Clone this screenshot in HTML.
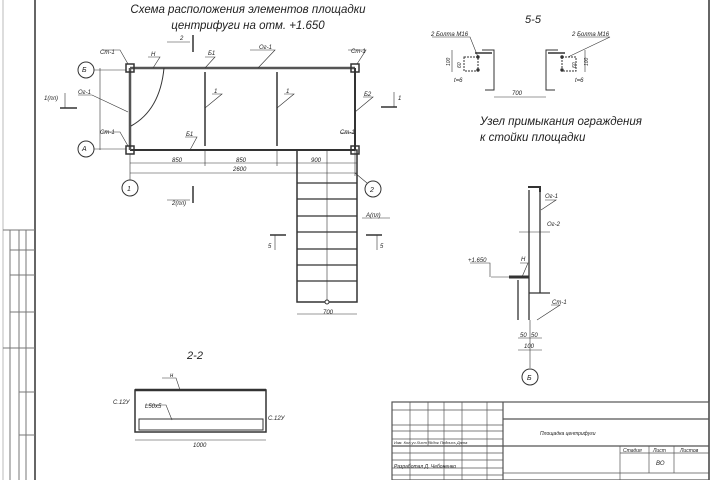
<!DOCTYPE html>
<html><head><meta charset="utf-8"><style>
html,body{margin:0;padding:0;background:#fff;}
svg{display:block;}
text{font-family:"Liberation Sans",sans-serif;font-style:italic;fill:#222;}
</style></head><body>
<svg width="720" height="480" viewBox="0 0 720 480" xmlns="http://www.w3.org/2000/svg">
<g stroke="#333" fill="none" stroke-width="1">
<line x1="35" y1="0" x2="35" y2="480" stroke-width="1.5"/>
<line x1="709" y1="0" x2="709" y2="480" stroke-width="1.5"/>
<line x1="3" y1="0" x2="3" y2="480" stroke="#bbb"/>
<g stroke="#777">
<line x1="10" y1="230" x2="10" y2="480"/>
<line x1="19" y1="230" x2="19" y2="480"/>
<line x1="26" y1="230" x2="26" y2="480"/>
<line x1="3" y1="230" x2="35" y2="230"/>
<line x1="10" y1="250" x2="35" y2="250"/>
<line x1="10" y1="275" x2="35" y2="275"/>
<line x1="10" y1="312" x2="35" y2="312"/>
<line x1="3" y1="348" x2="35" y2="348"/>
<line x1="19" y1="392" x2="35" y2="392"/>
<line x1="19" y1="435" x2="35" y2="435"/>
</g>
<line x1="130" y1="68" x2="355" y2="68" stroke-width="2.5" stroke="#555"/>
<line x1="130" y1="150" x2="355" y2="150" stroke-width="2"/>
<line x1="130" y1="68" x2="130" y2="150" stroke-width="2.5" stroke="#555"/>
<line x1="355" y1="68" x2="355" y2="150" stroke-width="2"/>
<line x1="205" y1="72" x2="205" y2="146" stroke-width="1.5"/>
<line x1="277" y1="72" x2="277" y2="146" stroke-width="1.5"/>
<path d="M164 68 Q160 110 131 126"/>
<rect x="126" y="64" width="8" height="8" stroke-width="1.5"/>
<rect x="351" y="64" width="8" height="8" stroke-width="1.5"/>
<rect x="126" y="146" width="8" height="8" stroke-width="1.5"/>
<rect x="351" y="146" width="8" height="8" stroke-width="1.5"/>
<circle cx="86" cy="70" r="8"/><line x1="94" y1="70" x2="126" y2="70" stroke-width="0.6"/>
<circle cx="86" cy="149" r="8"/><line x1="94" y1="149" x2="126" y2="149" stroke-width="0.6"/>
<line x1="100" y1="68" x2="100" y2="150" stroke-width="0.6"/>
<circle cx="130" cy="188" r="8"/><line x1="130" y1="154" x2="130" y2="180" stroke-width="0.6"/>
<circle cx="373" cy="189" r="8"/><line x1="355" y1="173" x2="367" y2="183" stroke-width="0.6"/>
<g stroke-width="0.6">
<line x1="130" y1="163" x2="357" y2="163"/>
<line x1="130" y1="173" x2="357" y2="173"/>
<line x1="205" y1="150" x2="205" y2="166"/>
<line x1="277" y1="150" x2="277" y2="166"/>
<line x1="355" y1="150" x2="355" y2="176"/>
</g>
<line x1="167" y1="42" x2="190" y2="42" stroke-width="0.6"/><line x1="193" y1="35" x2="193" y2="52" stroke-width="1.5"/>
<line x1="167" y1="200" x2="190" y2="200" stroke-width="0.6"/><line x1="193" y1="186" x2="193" y2="203" stroke-width="1.5"/>
<line x1="381" y1="107" x2="397" y2="107" stroke-width="1.5"/><line x1="394" y1="92" x2="394" y2="107" stroke-width="0.6"/>
<line x1="60" y1="108" x2="77" y2="108" stroke-width="1.5"/><line x1="65" y1="93" x2="65" y2="108" stroke-width="0.6"/>
<line x1="270" y1="235" x2="286" y2="235" stroke-width="1.5"/><line x1="275" y1="235" x2="275" y2="250" stroke-width="0.6"/>
<line x1="366" y1="235" x2="382" y2="235" stroke-width="1.5"/><line x1="377" y1="235" x2="377" y2="250" stroke-width="0.6"/>
<g stroke-width="0.6">
<path d="M102 50 L120 50 L128 64"/><path d="M348 50 L366 50 L357 64"/>
<path d="M102 132 L120 132 L128 146"/><path d="M340 133 L355 133 L355 146"/>
<path d="M148 57 L160 57 L153 68"/><path d="M205 57 L215 57 L205 68"/>
<path d="M250 50 L275 50 L258 68"/>
<path d="M78 95 L92 95 L128 112"/>
<path d="M185 137 L197 137 L190 150"/>
<path d="M212 94 L222 94 L205 108"/><path d="M284 94 L294 94 L277 108"/>
<path d="M363 97 L373 97 L355 112"/>
<path d="M362 218 L390 218"/>
</g>
<rect x="297" y="150" width="60" height="152" stroke-width="1.5"/>
<g stroke-width="1.3">
<line x1="297" y1="183" x2="357" y2="183"/><line x1="297" y1="199" x2="357" y2="199"/>
<line x1="297" y1="216" x2="357" y2="216"/><line x1="297" y1="232" x2="357" y2="232"/>
<line x1="297" y1="249" x2="357" y2="249"/><line x1="297" y1="265" x2="357" y2="265"/>
<line x1="297" y1="281" x2="357" y2="281"/>
</g>
<line x1="327" y1="150" x2="327" y2="300" stroke-width="0.6"/>
<circle cx="327" cy="302" r="2" fill="#fff"/>
<line x1="297" y1="314" x2="357" y2="314" stroke-width="0.6"/>
<!-- 5-5 -->
<g stroke-width="1">
<path d="M482 50 L494 50 L494 90 L485 90"/><line x1="475" y1="53" x2="492" y2="53" stroke-width="1.5"/>
<rect x="464" y="57" width="14" height="14" stroke-dasharray="2,1"/>
<path d="M558 50 L546 50 L546 90 L555 90"/><line x1="548" y1="53" x2="565" y2="53" stroke-width="1.5"/>
<rect x="562" y="57" width="14" height="14" stroke-dasharray="2,1"/>
<circle cx="478" cy="57" r="1.2" fill="#333"/><circle cx="478" cy="70" r="1.2" fill="#333"/>
<circle cx="562" cy="57" r="1.2" fill="#333"/><circle cx="562" cy="70" r="1.2" fill="#333"/>
<line x1="494" y1="97" x2="546" y2="97" stroke-width="0.6"/>
<path d="M432 37 L470 37 L478 57" stroke-width="0.6"/><path d="M578 37 L610 37 L568 57" stroke-width="0.6"/>
<path d="M452 50 L452 72 M585 50 L585 72" stroke-width="0.6"/>
</g>
<g>
<path d="M528 187 L540 187 L540 192" stroke-width="2"/>
<line x1="529" y1="190" x2="529" y2="320" stroke-width="1.3"/>
<line x1="540" y1="190" x2="540" y2="293" stroke-width="1.3"/>
<line x1="519" y1="232" x2="550" y2="232" stroke-width="0.6"/>
<line x1="491" y1="277" x2="529" y2="277" stroke-width="0.6"/>
<line x1="509" y1="277" x2="529" y2="277" stroke-width="3"/>
<line x1="518" y1="280" x2="518" y2="320" stroke-width="1.3"/>
<line x1="529" y1="293" x2="550" y2="293" stroke-width="1.3"/>
<path d="M470 263 L490 263 L490 277" stroke-width="0.6"/>
<path d="M520 263 L528 263 L522 277" stroke-width="0.6"/>
<path d="M545 200 L556 200 L541 210" stroke-width="0.6"/>
<path d="M551 305 L560 305 L537 320" stroke-width="0.6"/>
<line x1="518" y1="338" x2="542" y2="338" stroke-width="0.6"/>
<line x1="518" y1="350" x2="542" y2="350" stroke-width="0.6"/>
<line x1="530" y1="320" x2="530" y2="368" stroke-width="0.6"/>
<circle cx="530" cy="377" r="8"/>
</g>
<rect x="135" y="390" width="131" height="42" stroke-width="1.5"/>
<line x1="135" y1="390" x2="266" y2="390" stroke-width="2.5"/>
<rect x="139" y="419" width="124" height="11"/>
<path d="M162 378 L176 378 L180 390" stroke-width="0.6"/>
<path d="M145 405 L166 405 L172 420" stroke-width="0.6"/>
<line x1="135" y1="440" x2="266" y2="440" stroke-width="0.6"/>
<g stroke-width="0.7" stroke="#555">
<rect x="392" y="402" width="317" height="78" stroke-width="1.2"/>
<line x1="503" y1="419" x2="709" y2="419" stroke-width="1.2"/>
<line x1="392" y1="446" x2="709" y2="446" stroke-width="1.2"/>
<line x1="392" y1="410" x2="503" y2="410"/><line x1="392" y1="425" x2="503" y2="425"/>
<line x1="392" y1="431" x2="503" y2="431"/><line x1="392" y1="439" x2="503" y2="439"/>
<line x1="392" y1="453" x2="503" y2="453"/><line x1="392" y1="460" x2="503" y2="460"/>
<line x1="392" y1="468" x2="503" y2="468"/><line x1="392" y1="475" x2="503" y2="475"/>
<line x1="620" y1="453" x2="709" y2="453"/><line x1="503" y1="473" x2="709" y2="473"/>
<line x1="410" y1="402" x2="410" y2="480"/><line x1="428" y1="402" x2="428" y2="446"/>
<line x1="444" y1="402" x2="444" y2="480"/><line x1="462" y1="402" x2="462" y2="480"/>
<line x1="487" y1="402" x2="487" y2="480"/><line x1="503" y1="402" x2="503" y2="480" stroke-width="1.2"/>
<line x1="620" y1="446" x2="620" y2="480"/><line x1="649" y1="446" x2="649" y2="473"/><line x1="674" y1="446" x2="674" y2="473"/>
</g>
</g>
<text x="248" y="13" font-size="11.5" text-anchor="middle">Схема расположения элементов площадки</text>
<text x="248" y="29" font-size="11.5" text-anchor="middle">центрифуги на отм. +1.650</text>
<text x="533" y="23" font-size="11" text-anchor="middle">5-5</text>
<text x="480" y="125" font-size="11.5">Узел примыкания ограждения</text>
<text x="480" y="141" font-size="11.5">к стойки площадки</text>
<text x="195" y="359" font-size="11" text-anchor="middle">2-2</text>
<g font-size="6">
<text x="100" y="54">Ст-1</text><text x="351" y="53">Ст-1</text>
<text x="100" y="134">Ст-1</text><text x="340" y="134">Ст-1</text>
<text x="151" y="56">Н</text><text x="208" y="55">Б1</text><text x="259" y="49">Ог-1</text>
<text x="78" y="94">Ог-1</text><text x="186" y="136">Б1</text>
<text x="214" y="93">1</text><text x="286" y="93">1</text><text x="364" y="96">Б2</text>
<text x="172" y="162">850</text><text x="236" y="162">850</text><text x="311" y="162">900</text>
<text x="233" y="171">2600</text><text x="323" y="314">700</text>
<text x="44" y="100">1(пл)</text><text x="398" y="100">1</text>
<text x="180" y="40">2</text><text x="172" y="205">2(пл)</text>
<text x="366" y="217">А(пл)</text>
<text x="268" y="248">5</text><text x="380" y="248">5</text>
<text x="82" y="72" font-size="7">Б</text><text x="82" y="151" font-size="7">А</text>
<text x="127" y="191" font-size="7">1</text><text x="370" y="192" font-size="7">2</text>
<text x="527" y="380" font-size="7">Б</text>
<text x="431" y="36">2 Болта М16</text><text x="572" y="36">2 Болта М16</text>
<text x="454" y="82">t=6</text><text x="575" y="82">t=6</text>
<text x="512" y="95">700</text>
<text transform="translate(450,66) rotate(-90)" font-size="5">100</text>
<text transform="translate(588,66) rotate(-90)" font-size="5">100</text>
<text transform="translate(461,68) rotate(-90)" font-size="5">60</text>
<text transform="translate(576,68) rotate(-90)" font-size="5">60</text>
<text x="545" y="198">Ог-1</text>
<text x="547" y="226">Ог-2</text>
<text x="468" y="262">+1.650</text><text x="521" y="261">Н</text>
<text x="552" y="304">Ст-1</text>
<text x="520" y="337">50</text><text x="531" y="337">50</text><text x="524" y="348">100</text>
<text x="170" y="377">н</text><text x="145" y="408">L50х5</text>
<text x="113" y="404">С.12У</text><text x="268" y="420">С.12У</text>
<text x="193" y="447">1000</text>
<text x="540" y="435" font-size="5">Площадка центрифуги</text>
<text x="623" y="452" font-size="5">Стадия</text><text x="653" y="452" font-size="5">Лист</text><text x="680" y="452" font-size="5">Листов</text>
<text x="656" y="465">ВО</text>
<text x="394" y="444" font-size="4">Изм. Кол.уч Лист №док Подпись Дата</text>
<text x="394" y="468" font-size="5">Разработал Д. Чебоненко</text>
</g>
</svg>
</body></html>
